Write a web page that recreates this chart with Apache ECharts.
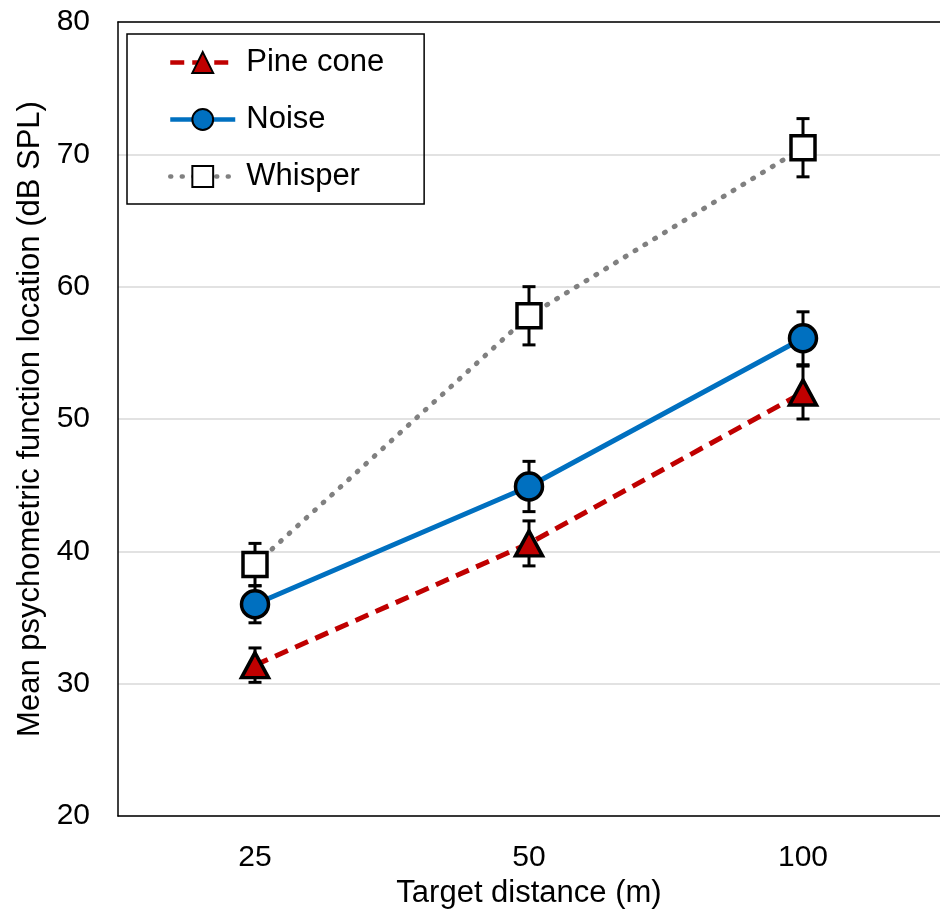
<!DOCTYPE html>
<html>
<head>
<meta charset="utf-8">
<script src="https://cdn.jsdelivr.net/npm/echarts@6/dist/echarts.min.js"></script>
<style>
  html, body { margin: 0; padding: 0; background: #fff; }
  #chart { width: 940px; height: 916px; }
</style>
</head>
<body>
<div id="chart"></div>
<script>
const distances = ['25', '50', '100']

const pineCone = [31.4, 40.6, 52.0]
const pineErr = [1.3, 1.7, 2.0]
const noise = [36.0, 44.9, 56.1]
const noiseErr = [1.4, 1.9, 2.0]
const whisper = [39.0, 57.8, 70.5]
const whisperErr = [1.6, 2.2, 2.2]

const font = 'Liberation Sans, Arial, sans-serif'

function errData(vals, errs) {
  return vals.map((v, i) => [i, v - errs[i], v + errs[i]])
}

function renderErr(params, api) {
  const x = api.value(0)
  const lo = api.coord([x, api.value(1)])
  const hi = api.coord([x, api.value(2)])
  const w = 6.5
  const st = { stroke: '#000', lineWidth: 3 }
  return {
    type: 'group',
    children: [
      { type: 'line', shape: { x1: lo[0], y1: lo[1], x2: hi[0], y2: hi[1] }, style: st },
      { type: 'line', shape: { x1: lo[0] - w, y1: lo[1], x2: lo[0] + w, y2: lo[1] }, style: st },
      { type: 'line', shape: { x1: hi[0] - w, y1: hi[1], x2: hi[0] + w, y2: hi[1] }, style: st }
    ]
  }
}

const chart = echarts.init(document.getElementById('chart'))
chart.setOption({
  animation: false,
  backgroundColor: '#fff',
  grid: { left: 118, right: -2, top: 22, bottom: 100 },
  legend: {
    orient: 'vertical',
    left: 127,
    top: 34,
    padding: [13, 40, 12, 41],
    borderColor: '#000',
    borderWidth: 1.5,
    itemGap: 26,
    itemWidth: 65,
    itemHeight: 26,
    lineStyle: { width: 4.5 },
    textStyle: { fontFamily: font, fontSize: 31, color: '#000', padding: [0, 0, 0, 6] },
    data: ['Pine cone', 'Noise', 'Whisper']
  },
  xAxis: [
    {
      type: 'category',
      data: distances,
      name: 'Target distance (m)',
      nameLocation: 'middle',
      nameGap: 55,
      nameTextStyle: { fontFamily: font, fontSize: 31, color: '#000' },
      axisLine: { lineStyle: { color: '#000', width: 1.5 } },
      axisTick: { show: false },
      axisLabel: { fontFamily: font, fontSize: 30, color: '#000', margin: 27 }
    },
    {
      // top frame line
      type: 'category',
      position: 'top',
      data: distances,
      axisLine: { lineStyle: { color: '#000', width: 1.5 } },
      axisTick: { show: false },
      axisLabel: { show: false },
      splitLine: { show: false }
    }
  ],
  yAxis: {
    type: 'value',
    min: 20,
    max: 80,
    interval: 10,
    name: 'Mean psychometric function location (dB SPL)',
    nameLocation: 'middle',
    nameGap: 71,
    nameTextStyle: { fontFamily: font, fontSize: 31, color: '#000' },
    axisLine: { show: true, lineStyle: { color: '#000', width: 1.5 } },
    axisTick: { show: false },
    axisLabel: { fontFamily: font, fontSize: 30, color: '#000', margin: 28 },
    splitLine: { lineStyle: { color: '#d9d9d9', width: 1.5 } }
  },
  series: [
    { type: 'custom', renderItem: renderErr, data: errData(whisper, whisperErr), z: 1 },
    { type: 'custom', renderItem: renderErr, data: errData(noise, noiseErr), z: 1 },
    { type: 'custom', renderItem: renderErr, data: errData(pineCone, pineErr), z: 1 },
    {
      name: 'Whisper',
      type: 'line',
      data: whisper,
      z: 3,
      symbol: 'rect',
      symbolSize: 24,
      lineStyle: { color: '#808080', width: 5, type: [1, 10.5], cap: 'round' },
      itemStyle: { color: '#fff', borderColor: '#000', borderWidth: 3.5 }
    },
    {
      name: 'Noise',
      type: 'line',
      data: noise,
      z: 4,
      symbol: 'circle',
      symbolSize: 27,
      lineStyle: { color: '#0070C0', width: 5 },
      itemStyle: { color: '#0070C0', borderColor: '#000', borderWidth: 3.5 }
    },
    {
      name: 'Pine cone',
      type: 'line',
      data: pineCone,
      z: 5,
      symbol: 'triangle',
      symbolSize: [27, 25],
      lineStyle: { color: '#C00000', width: 5, type: [14, 8] },
      itemStyle: { color: '#C00000', borderColor: '#000', borderWidth: 3.5 }
    }
  ]
})
</script>
</body>
</html>
